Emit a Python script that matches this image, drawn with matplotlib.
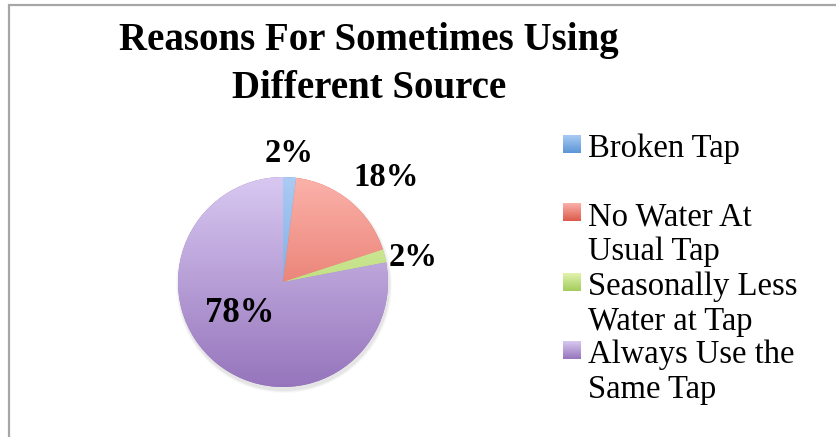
import numpy as np
import matplotlib.pyplot as plt
from matplotlib.colors import LinearSegmentedColormap
from matplotlib.patches import Circle

title_lines = ["Reasons For Sometimes Using", "Different Source"]
labels = ["Broken Tap", "No Water At\nUsual Tap", "Seasonally Less\nWater at Tap", "Always Use the\nSame Tap"]
shares = [2, 18, 2, 78]
top_colors = ["#aacbf4", "#fbb2aa", "#e1f3ae", "#d8c8f1"]
bottom_colors = ["#5a95d6", "#dc594b", "#a3cc5c", "#9675bc"]

W, H = 836, 437
fig = plt.figure(figsize=(W / 100, H / 100), dpi=100)
ax = fig.add_axes([0, 0, 1, 1])

serif = "Liberation Serif"

# pie in pixel-like coordinates (y up)
cx, cy, r = 283, H - 282, 105

# soft shadow under the pie
for k, a in [(3, 0.025), (2, 0.035), (1, 0.045)]:
    ax.add_patch(Circle((cx + 1, cy - 3), r + k, color="black", alpha=a, lw=0, zorder=0))

wedges, _ = ax.pie(shares, startangle=90, counterclock=False, center=(cx, cy), radius=r,
                   colors=bottom_colors, wedgeprops=dict(linewidth=0, zorder=1))

# vertical gradient fill clipped to each wedge
grad = np.linspace(0, 1, 256)[:, None]
for w, c0, c1 in zip(wedges, bottom_colors, top_colors):
    cmap = LinearSegmentedColormap.from_list("g", [c0, c1])
    im = ax.imshow(grad, cmap=cmap, extent=(cx - r, cx + r, cy - r, cy + r),
                   origin="lower", aspect="auto", zorder=2, interpolation="bilinear")
    im.set_clip_path(w)

# percentage labels
label_xy = [(289, 153), (386, 178), (413, 257), (240, 314)]
label_size = [23.5, 23.5, 23.5, 25]
for s, (x, y), fs in zip(shares, label_xy, label_size):
    ax.text(x, H - y, f"{s}%", ha="center", va="center", fontsize=fs,
            fontweight="bold", family=serif, color="black", zorder=5)

# title
for i, line in enumerate(title_lines):
    ax.text(369, H - (50 + 48 * i), line, ha="center", va="baseline", fontsize=28,
            fontweight="bold", family=serif, color="black")

# legend
entry_baselines = [157, 225, 295, 363]
for lab, b, c0, c1 in zip(labels, entry_baselines, bottom_colors, top_colors):
    cmap = LinearSegmentedColormap.from_list("g", [c0, c1])
    sq_top = H - (b - 22)
    ax.imshow(grad, cmap=cmap, extent=(563, 581, sq_top - 18, sq_top),
              origin="lower", aspect="auto", zorder=3)
    for j, part in enumerate(lab.split("\n")):
        ax.text(588, H - (b + 35 * j), part, ha="left", va="baseline", fontsize=23.5,
                family=serif, color="black")

# chart border (right and bottom edges fall outside the canvas)
ax.plot([8.5, 8.5, W + 5], [-5, H - 4.5, H - 4.5], color="#a6a6a6", lw=1.6,
        solid_joinstyle="miter", zorder=6)

ax.set_xlim(0, W)
ax.set_ylim(0, H)
ax.set_aspect("auto")
ax.axis("off")

fig.savefig("out.png", dpi=100)
